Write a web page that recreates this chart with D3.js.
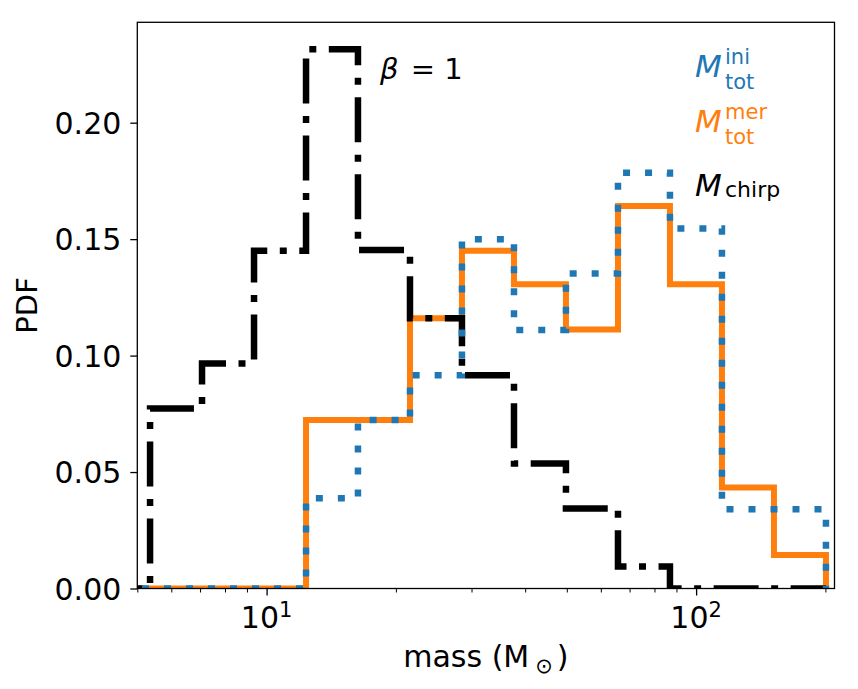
<!DOCTYPE html>
<html>
<head>
<meta charset="utf-8">
<script src="https://cdn.jsdelivr.net/npm/d3@7"></script>
<style>
  html, body { margin: 0; padding: 0; background: #fff; }
  svg { display: block; font-family: "DejaVu Sans", sans-serif; }
</style>
</head>
<body>
<svg id="chart" width="858" height="689"></svg>
<script>
// ---- data ----
const binEdges = [4.05, 5.354, 7.074, 9.349, 12.355, 16.32, 21.57, 28.50, 37.67, 49.77, 65.78, 86.92, 114.86, 151.8, 200.6];
const chirpPDF = [0, 0.0773, 0.0966, 0.145, 0.2315, 0.1453, 0.116, 0.0916, 0.0537, 0.0344, 0.0094, 0, 0, 0];
const merPDF   = [0, 0, 0, 0, 0.0723, 0.0723, 0.116, 0.145, 0.1306, 0.1112, 0.1642, 0.1306, 0.0434, 0.0144];
const iniPDF   = [0, 0, 0, 0, 0.0387, 0.0723, 0.0916, 0.1499, 0.111, 0.1353, 0.1785, 0.1546, 0.034, 0.034];
const yTicks = [0, 0.05, 0.10, 0.15, 0.20];
const xMajorTicks = [10, 100];
const xMinorTicks = [5, 6, 7, 8, 9, 20, 30, 40, 50, 60, 70, 80, 90, 200];
const xDomain = [5, 210];
const yMax = 0.2431;
const annotation = ["β", "= 1"];
const xLabel = "mass (M";
const yLabel = "PDF";
const legendLabels = [
  { sup: "ini", sub: "tot", color: "#1f77b4" },
  { sup: "mer", sub: "tot", color: "#ff7f0e" },
  { sup: null, sub: "chirp", color: "#000000" }
];

const svg = d3.select("#chart");
const L = 137.3, R = 834.5, T = 22.3, B = 588.5;

const x = d3.scaleLog().domain(xDomain).range([L, R]);
const y = d3.scaleLinear().domain([0, yMax]).range([B, T]);

svg.append("defs").append("clipPath").attr("id", "clip")
  .append("rect").attr("x", L).attr("y", T - 10).attr("width", R - L).attr("height", B - T + 10);

function stepPts(vals) {
  const pts = [[binEdges[0], 0]];
  vals.forEach((v, i) => { pts.push([binEdges[i], v]); pts.push([binEdges[i + 1], v]); });
  pts.push([binEdges[binEdges.length - 1], 0]);
  return pts;
}
const line = d3.line().x(d => x(d[0])).y(d => y(d[1]));

const g = svg.append("g").attr("clip-path", "url(#clip)");
const series = [
  { vals: merPDF, color: "#ff7f0e", width: 6, dash: null },
  { vals: chirpPDF, color: "#000000", width: 6.5, dash: "45,12.5,7,12.5" },
  { vals: iniPDF, color: "#1f77b4", width: 6.5, dash: "7,15" }
];
series.forEach(s => {
  g.append("path").attr("d", line(stepPts(s.vals)))
    .attr("fill", "none").attr("stroke", s.color).attr("stroke-width", s.width)
    .attr("stroke-linejoin", "miter").attr("stroke-linecap", "butt")
    .attr("stroke-dasharray", s.dash);
});

// axes frame
svg.append("rect").attr("x", L).attr("y", T).attr("width", R - L).attr("height", B - T)
  .attr("fill", "none").attr("stroke", "#000").attr("stroke-width", 1.3);

// y axis
const yAxis = d3.axisLeft(y).tickValues(yTicks).tickFormat(d3.format(".2f")).tickSize(7).tickPadding(9);
const ya = svg.append("g").attr("transform", `translate(${L},0)`).call(yAxis);
ya.select(".domain").remove();
ya.selectAll("line").attr("stroke-width", 1.3);
ya.selectAll("text").attr("font-size", 30).attr("font-family", "DejaVu Sans").attr("fill", "#000")
  .attr("dy", "0.36em");

// x axis
const xa = svg.append("g").attr("transform", `translate(0,${B})`)
  .call(d3.axisBottom(x).tickValues(xMajorTicks).tickFormat("").tickSize(7));
xa.select(".domain").remove();
xa.selectAll("line").attr("stroke-width", 1.3);
const xm = svg.append("g").attr("transform", `translate(0,${B})`)
  .call(d3.axisBottom(x).tickValues(xMinorTicks).tickFormat("").tickSize(4));
xm.select(".domain").remove();
xm.selectAll("line").attr("stroke-width", 1);

xMajorTicks.forEach(v => {
  const t = svg.append("text").attr("x", x(v)).attr("y", 628).attr("text-anchor", "middle")
    .attr("font-size", 30).attr("fill", "#000");
  t.append("tspan").text("10");
  t.append("tspan").attr("font-size", 21).attr("dy", -11).text(String(Math.round(Math.log10(v))));
});

// x label
const xl = svg.append("text").attr("x", (L + R) / 2).attr("y", 667).attr("text-anchor", "middle")
  .attr("font-size", 30).attr("fill", "#000");
xl.append("tspan").text(xLabel);
xl.append("tspan").attr("font-size", 21).attr("dx", 6).attr("dy", 6).text("⊙");
xl.append("tspan").attr("font-size", 30).attr("dx", 4).attr("dy", -6).text(")");

// y label
svg.append("text").attr("transform", `translate(37,${(T + B) / 2}) rotate(-90)`)
  .attr("text-anchor", "middle").attr("font-size", 29).attr("fill", "#000").text(yLabel);

// annotation beta = 1
const an = svg.append("text").attr("x", 380).attr("y", 79).attr("font-size", 29).attr("fill", "#000");
an.append("tspan").attr("font-style", "italic").text(annotation[0]);
an.append("tspan").attr("dx", 3).text(" " + annotation[1]);

// legend-like labels
const bases = [77, 132, 196];
legendLabels.forEach((d, i) => {
  const b = bases[i];
  const t = svg.append("text").attr("fill", d.color);
  t.append("tspan").attr("x", 695).attr("y", b).attr("font-size", 31).attr("font-style", "italic").text("M");
  if (d.sup) {
    t.append("tspan").attr("x", 725).attr("y", b - 13).attr("font-size", 21).text(d.sup);
    t.append("tspan").attr("x", 725).attr("y", b + 11.5).attr("font-size", 21).text(d.sub);
  } else {
    t.append("tspan").attr("x", 725).attr("y", b + 1).attr("font-size", 22).text(d.sub);
  }
});
</script>
</body>
</html>
